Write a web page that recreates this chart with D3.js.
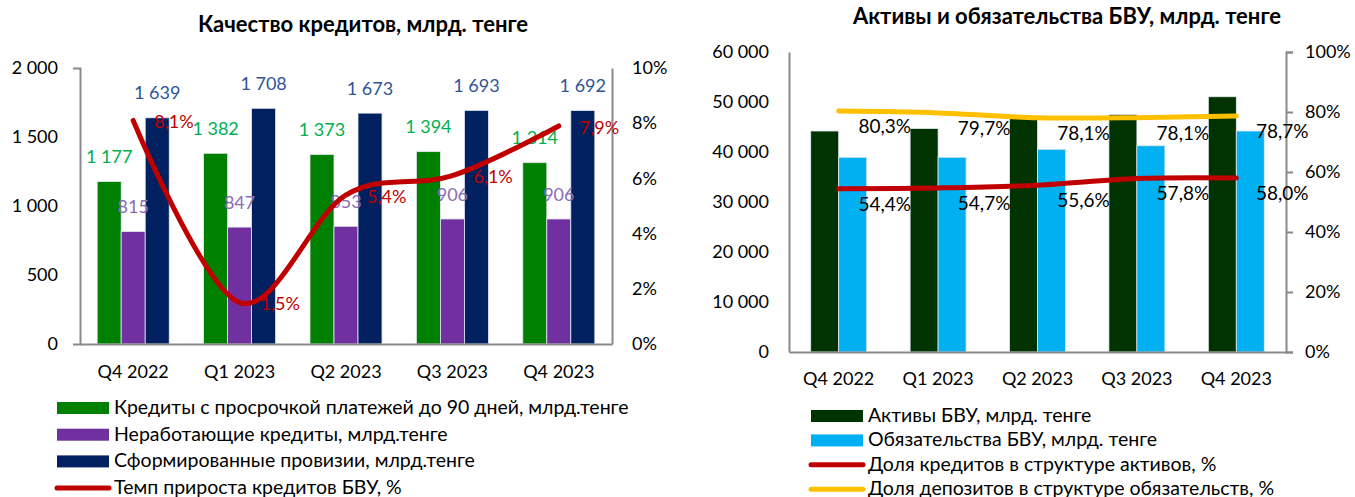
<!DOCTYPE html>
<html>
<head>
<meta charset="utf-8">
<script src="https://cdn.jsdelivr.net/npm/d3@7"></script>
<style>
  body { margin: 0; background: #fff; }
  svg { display: block; font-family: Lato, 'Open Sans', sans-serif; }
</style>
</head>
<body>
<div class="chart"></div>
<script>
let width = 1355;
let height = 497;

// data - left chart
let quarters = ['Q4 2022', 'Q1 2023', 'Q2 2023', 'Q3 2023', 'Q4 2023'];
let overdueLoans = [1177, 1382, 1373, 1394, 1314];
let npl = [815, 847, 853, 906, 906];
let provisions = [1639, 1708, 1673, 1693, 1692];
let loanGrowth = [8.1, 1.5, 5.4, 6.1, 7.9];
let leftTicks = [0, 500, 1000, 1500, 2000];
let leftPctTicks = [0, 2, 4, 6, 8, 10];

// data - right chart
let assets = [44200, 44700, 46900, 47500, 51050];
let liabilities = [38950, 38950, 40550, 41250, 44200];
let loanShare = [54.4, 54.7, 55.6, 57.8, 58.0];
let depositShare = [80.3, 79.7, 78.1, 78.1, 78.7];
let rightTicks = [0, 10000, 20000, 30000, 40000, 50000, 60000];
let rightPctTicks = [0, 20, 40, 60, 80, 100];

let fmtNum = d => d3.format(',')(d).replace(/,/g, ' ');
let fmtPct = d => d.toFixed(1).replace('.', ',') + '%';

let svg = d3.select('.chart')
            .append('svg')
            .attr('width', width)
            .attr('height', height);

let fontSize = 18;
let legendSize = 19.5;
let titleSize = 22;
let axisColor = '#898989';

function styleAxis(g) {
  g.selectAll('path, line').attr('stroke', axisColor).attr('stroke-width', 2);
  g.selectAll('text').attr('font-size', fontSize).attr('fill', '#000')
   .attr('font-family', "Lato, 'Open Sans', sans-serif");
}

// ---------- left chart ----------
let L = {x0: 80, x1: 612, top: 68, bottom: 344};

svg.append('text')
   .attr('x', 363).attr('y', 26)
   .attr('text-anchor', 'middle')
   .attr('dominant-baseline', 'middle')
   .attr('font-weight', 'bold')
   .attr('font-size', titleSize)
   .text('Качество кредитов, млрд. тенге');

let xL = d3.scaleBand().domain(quarters).range([L.x0, L.x1])
           .paddingInner(0.323).paddingOuter(0.1615);
let barKeysL = ['overdue', 'npl', 'prov'];
let xL1 = d3.scaleBand().domain(barKeysL).range([0, xL.bandwidth()]);
let yL = d3.scaleLinear().domain([0, 2000]).range([L.bottom, L.top]);
let yLp = d3.scaleLinear().domain([0, 10]).range([L.bottom, L.top]);

let seriesL = [
  {key: 'overdue', values: overdueLoans, fill: '#008000', label: '#00b050'},
  {key: 'npl', values: npl, fill: '#7030a0', label: '#8a6db5'},
  {key: 'prov', values: provisions, fill: '#002060', label: '#2f5597'}
];

svg.append('g')
   .attr('transform', 'translate(' + L.x0 + ',0)')
   .call(d3.axisLeft(yL).tickValues(leftTicks).tickSizeInner(0).tickSizeOuter(7)
          .tickPadding(22).tickFormat(fmtNum))
   .call(styleAxis);

svg.append('g')
   .attr('transform', 'translate(' + L.x1 + ',0)')
   .call(d3.axisRight(yLp).tickValues(leftPctTicks).tickSize(0)
          .tickPadding(20).tickFormat(d => d + '%'))
   .call(styleAxis);

seriesL.forEach(s => {
  svg.append('g').selectAll('rect')
     .data(s.values)
     .enter()
     .append('rect')
     .attr('x', (d, i) => xL(quarters[i]) + xL1(s.key))
     .attr('y', d => yL(d))
     .attr('width', xL1.bandwidth())
     .attr('height', d => L.bottom - yL(d))
     .attr('fill', s.fill)
     .attr('stroke', '#e3e8f0')
     .attr('stroke-width', 0.8);
});

svg.append('g')
   .attr('transform', 'translate(0,' + L.bottom + ')')
   .call(d3.axisBottom(xL).tickSize(0).tickPadding(21))
   .call(styleAxis);

seriesL.forEach(s => {
  svg.append('g').selectAll('text')
     .data(s.values)
     .enter()
     .append('text')
     .attr('x', (d, i) => xL(quarters[i]) + xL1(s.key) + xL1.bandwidth() / 2)
     .attr('y', d => yL(d) - 23)
     .attr('text-anchor', 'middle')
     .attr('dominant-baseline', 'middle')
     .attr('font-size', fontSize)
     .attr('fill', s.label)
     .text(d => fmtNum(d));
});

let cx = (i, xs) => xs(quarters[i]) + xs.bandwidth() / 2;

let lineL = d3.line()
              .x((d, i) => cx(i, xL))
              .y(d => yLp(d))
              .curve(d3.curveCardinal.tension(0));

svg.append('path')
   .datum(loanGrowth)
   .attr('d', lineL)
   .attr('fill', 'none')
   .attr('stroke', '#c00000')
   .attr('stroke-width', 5)
   .attr('stroke-linecap', 'round');

svg.append('g').selectAll('text')
   .data(loanGrowth)
   .enter()
   .append('text')
   .attr('x', (d, i) => cx(i, xL) + 21)
   .attr('y', d => yLp(d) + 3)
   .attr('dominant-baseline', 'middle')
   .attr('font-size', fontSize)
   .attr('fill', '#c00000')
   .text(d => fmtPct(d));

// legend left
let legendL = [
  {type: 'rect', color: '#008000', text: 'Кредиты с просрочкой платежей до 90 дней, млрд.тенге'},
  {type: 'rect', color: '#7030a0', text: 'Неработающие кредиты, млрд.тенге'},
  {type: 'rect', color: '#002060', text: 'Сформированные провизии, млрд.тенге'},
  {type: 'line', color: '#c00000', text: 'Темп прироста кредитов БВУ, %'}
];

function drawLegend(items, x, y0, step, w) {
  let g = svg.append('g');
  items.forEach((it, i) => {
    let y = y0 + i * step;
    if (it.type === 'rect') {
      g.append('rect').attr('x', x).attr('y', y - 6).attr('width', w).attr('height', 12)
       .attr('fill', it.color);
    } else {
      g.append('line').attr('x1', x).attr('x2', x + w).attr('y1', y).attr('y2', y)
       .attr('stroke', it.color).attr('stroke-width', 5).attr('stroke-linecap', 'round');
    }
    g.append('text').attr('x', x + w + 5).attr('y', y + 1)
     .attr('dominant-baseline', 'middle')
     .attr('font-size', legendSize)
     .attr('fill', '#000')
     .text(it.text);
  });
}
drawLegend(legendL, 57, 408, 26.7, 52);

// ---------- right chart ----------
let R = {x0: 789, x1: 1286, top: 52, bottom: 352};

svg.append('text')
   .attr('x', 1067).attr('y', 18)
   .attr('text-anchor', 'middle')
   .attr('dominant-baseline', 'middle')
   .attr('font-weight', 'bold')
   .attr('font-size', titleSize)
   .text('Активы и обязательства БВУ, млрд. тенге');

let xR = d3.scaleBand().domain(quarters).range([R.x0, R.x1])
           .paddingInner(0.437).paddingOuter(0.2185);
let barKeysR = ['assets', 'liab'];
let xR1 = d3.scaleBand().domain(barKeysR).range([0, xR.bandwidth()]);
let yR = d3.scaleLinear().domain([0, 60000]).range([R.bottom, R.top]);
let yRp = d3.scaleLinear().domain([0, 100]).range([R.bottom, R.top]);

let seriesR = [
  {key: 'assets', values: assets, fill: '#003300'},
  {key: 'liab', values: liabilities, fill: '#00b0f0'}
];

svg.append('g')
   .attr('transform', 'translate(' + R.x0 + ',0)')
   .call(d3.axisLeft(yR).tickValues(rightTicks).tickSize(0)
          .tickPadding(20).tickFormat(fmtNum))
   .call(styleAxis);

svg.append('g')
   .attr('transform', 'translate(' + R.x1 + ',0)')
   .call(d3.axisRight(yRp).tickValues(rightPctTicks).tickSize(7)
          .tickPadding(12).tickFormat(d => d + '%'))
   .call(styleAxis);

seriesR.forEach(s => {
  svg.append('g').selectAll('rect')
     .data(s.values)
     .enter()
     .append('rect')
     .attr('x', (d, i) => xR(quarters[i]) + xR1(s.key))
     .attr('y', d => yR(d))
     .attr('width', xR1.bandwidth())
     .attr('height', d => R.bottom - yR(d))
     .attr('fill', s.fill)
     .attr('stroke', '#e3e8f0')
     .attr('stroke-width', 0.8);
});

svg.append('g')
   .attr('transform', 'translate(0,' + R.bottom + ')')
   .call(d3.axisBottom(xR).tickSize(0).tickPadding(20))
   .call(styleAxis);

let lineR = d3.line()
              .x((d, i) => cx(i, xR))
              .y(d => yRp(d))
              .curve(d3.curveCardinal.tension(0));

[{values: depositShare, color: '#ffc000'}, {values: loanShare, color: '#c00000'}].forEach(s => {
  svg.append('path')
     .datum(s.values)
     .attr('d', lineR)
     .attr('fill', 'none')
     .attr('stroke', s.color)
     .attr('stroke-width', 5)
     .attr('stroke-linecap', 'round');
});

[depositShare, loanShare].forEach(vals => {
  svg.append('g').selectAll('text')
     .data(vals)
     .enter()
     .append('text')
     .attr('x', (d, i) => cx(i, xR) + 46)
     .attr('y', d => yRp(d) + 17)
     .attr('text-anchor', 'middle')
     .attr('dominant-baseline', 'middle')
     .attr('font-size', 19)
     .attr('fill', '#000')
     .text(d => fmtPct(d));
});

let legendR = [
  {type: 'rect', color: '#003300', text: 'Активы БВУ, млрд. тенге'},
  {type: 'rect', color: '#00b0f0', text: 'Обязательства БВУ, млрд. тенге'},
  {type: 'line', color: '#c00000', text: 'Доля кредитов в структуре активов, %'},
  {type: 'line', color: '#ffc000', text: 'Доля депозитов в структуре обязательств, %'}
];
drawLegend(legendR, 811, 416, 24.4, 52);
</script>
</body>
</html>
